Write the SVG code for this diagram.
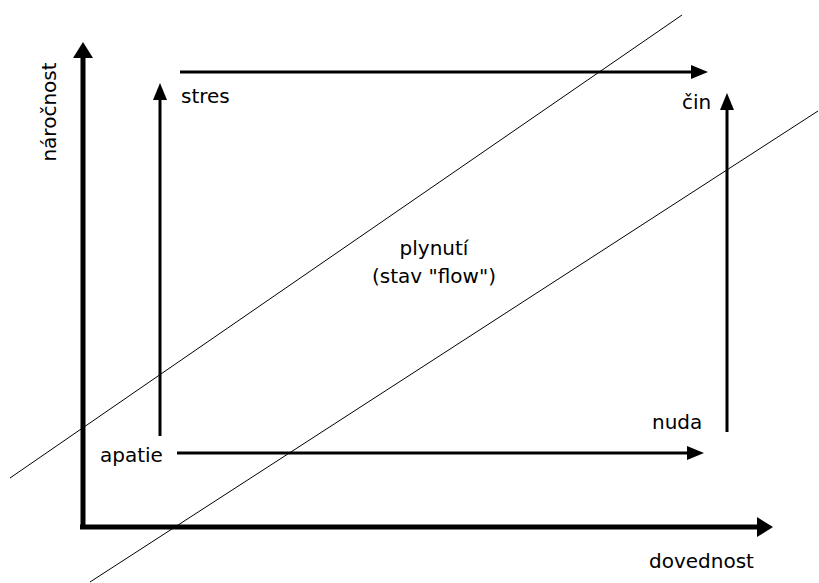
<svg xmlns="http://www.w3.org/2000/svg" width="819" height="583" viewBox="0 0 819 583">
  <style>
    text { font-family: "DejaVu Sans", Verdana, sans-serif; font-size: 20px; fill: #000; }
    .axis { stroke: #000; stroke-width: 5; fill: none; }
    .arrow { stroke: #000; stroke-width: 3; fill: none; }
    .zone { stroke: #000; stroke-width: 1; fill: none; }
  </style>
  <defs>
    <marker id="headAxis" markerUnits="userSpaceOnUse" viewBox="0 0 16 20" markerWidth="16" markerHeight="20" refX="0" refY="10" orient="auto">
      <path d="M0,0 L16,10 L0,20 Z" fill="#000"/>
    </marker>
    <marker id="head" markerUnits="userSpaceOnUse" viewBox="0 0 17 14" markerWidth="17" markerHeight="14" refX="0" refY="7" orient="auto">
      <path d="M0,0 L17,7 L0,14 Z" fill="#000"/>
    </marker>
  </defs>

  <!-- flow channel boundaries -->
  <g id="channel">
    <line class="zone" x1="10" y1="478" x2="682" y2="15"/>
    <line class="zone" x1="90" y1="582" x2="818" y2="111"/>
  </g>

  <!-- axes -->
  <g id="axes">
    <line class="axis" x1="83" y1="529" x2="83" y2="58" marker-end="url(#headAxis)"/>
    <line class="axis" x1="80" y1="527" x2="757" y2="527" marker-end="url(#headAxis)"/>
    <text x="56" y="112" text-anchor="middle" transform="rotate(-90 56 112)">náročnost</text>
    <text x="649" y="568">dovednost</text>
  </g>

  <!-- state transitions -->
  <g id="connectors">
    <line class="arrow" x1="160" y1="436" x2="160" y2="100" marker-end="url(#head)"/>
    <line class="arrow" x1="180" y1="72" x2="691" y2="72" marker-end="url(#head)"/>
    <line class="arrow" x1="727" y1="432" x2="727" y2="110" marker-end="url(#head)"/>
    <line class="arrow" x1="177" y1="453" x2="687" y2="453" marker-end="url(#head)"/>
  </g>

  <!-- states -->
  <g id="stres"><text x="181" y="103">stres</text></g>
  <g id="cin"><text x="682" y="109">čin</text></g>
  <g id="apatie"><text x="100" y="462">apatie</text></g>
  <g id="nuda"><text x="652" y="429">nuda</text></g>
  <g id="plynuti">
    <text x="434" y="255" text-anchor="middle">plynutí</text>
    <text x="434" y="283" text-anchor="middle">(stav "flow")</text>
  </g>
</svg>
